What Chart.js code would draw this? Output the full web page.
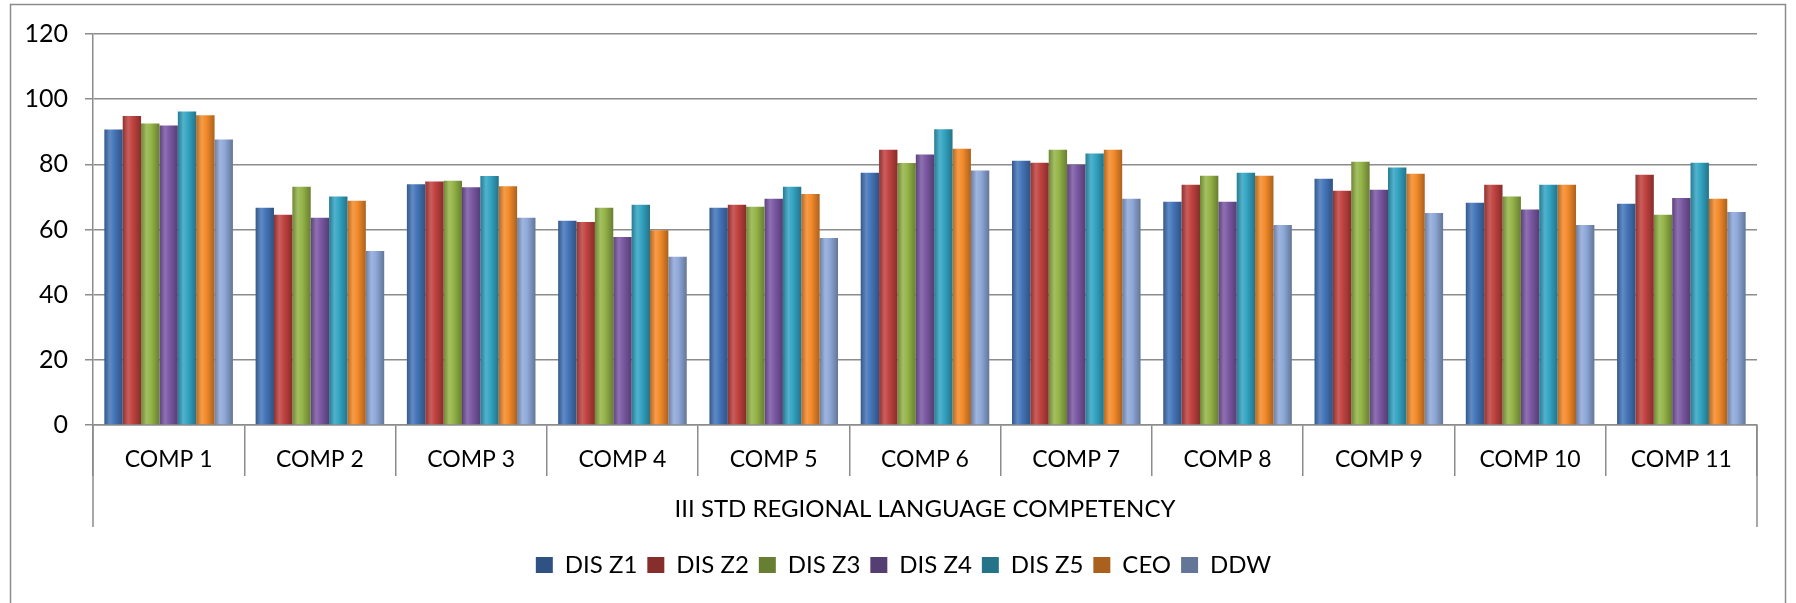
<!DOCTYPE html>
<html>
<head>
<meta charset="utf-8">
<script src="https://cdn.jsdelivr.net/npm/chart.js@4.4.1/dist/chart.umd.min.js"></script>
<style>
  html, body { margin: 0; padding: 0; background: #fff; }
  #wrap { width: 1796px; height: 603px; }
</style>
</head>
<body>
<div id="wrap"><canvas id="myChart"></canvas></div>
<script>
const categories = ['COMP 1', 'COMP 2', 'COMP 3', 'COMP 4', 'COMP 5', 'COMP 6',
  'COMP 7', 'COMP 8', 'COMP 9', 'COMP 10', 'COMP 11'];
const axisTitle = 'III STD REGIONAL LANGUAGE COMPETENCY';
const yTicks = [0, 20, 40, 60, 80, 100, 120];

const disZ1 = [90.7, 66.7, 73.9, 62.7, 66.7, 77.4, 81.1, 68.5, 75.6, 68.2, 67.9];
const disZ2 = [94.8, 64.5, 74.7, 62.3, 67.6, 84.5, 80.5, 73.7, 71.9, 73.7, 76.8];
const disZ3 = [92.5, 73.1, 75.0, 66.7, 67.0, 80.4, 84.5, 76.5, 80.8, 70.1, 64.5];
const disZ4 = [91.9, 63.6, 73.0, 57.7, 69.4, 83.0, 79.9, 68.5, 72.2, 66.1, 69.7];
const disZ5 = [96.2, 70.1, 76.4, 67.6, 73.1, 90.8, 83.3, 77.4, 79.0, 73.7, 80.5];
const ceo   = [95.1, 68.8, 73.3, 59.8, 70.9, 84.8, 84.5, 76.5, 77.1, 73.7, 69.4];
const ddw   = [87.6, 53.4, 63.6, 51.6, 57.4, 78.1, 69.4, 61.4, 65.1, 61.4, 65.4];

const gridColor = '#8c8c8c';
const axisFont = { family: 'Lato', size: 23 };
const yFont = { family: 'Lato', size: 25 };
const titleFont = { family: 'Lato', size: 24 };
const legendFont = { family: 'Lato', size: 24 };

// lighten (amt > 0) or darken (amt < 0) a hex colour
function shade(hex, amt) {
  const n = parseInt(hex.slice(1), 16);
  let r = n >> 16, g = (n >> 8) & 255, b = n & 255;
  const t = amt < 0 ? 0 : 255, p = Math.abs(amt);
  r = Math.round(r + (t - r) * p);
  g = Math.round(g + (t - g) * p);
  b = Math.round(b + (t - b) * p);
  return `rgb(${r},${g},${b})`;
}

// horizontal gradient so the bars look a bit like cylinders
function cylinder(base) {
  return (c) => {
    const el = c.element;
    if (!el || !isFinite(el.x) || !el.width) return base;
    const g = c.chart.ctx.createLinearGradient(el.x - el.width / 2, 0, el.x + el.width / 2, 0);
    g.addColorStop(0, shade(base, -0.25));
    g.addColorStop(0.3, shade(base, 0.15));
    g.addColorStop(0.55, base);
    g.addColorStop(1, shade(base, -0.3));
    return g;
  };
}

function series(label, data, color) {
  return {
    label, data,
    backgroundColor: cylinder(color),
    borderWidth: 0,
    barPercentage: 1.0,
    categoryPercentage: 0.85,
  };
}

const frame = {
  id: 'frame',
  afterLayout(chart) {
    // legend sits a little right of the canvas centre in the original
    chart.legend.left += 20;
    chart.legend.right += 20;
  },
  beforeDraw(chart) {
    const { ctx } = chart;
    ctx.save();
    ctx.strokeStyle = gridColor;
    ctx.lineWidth = 1.5;
    ctx.strokeRect(10.5, 4.5, chart.width - 21, chart.height + 20);
    ctx.restore();
  },
  afterDraw(chart) {
    const { ctx, chartArea } = chart;
    ctx.save();
    ctx.strokeStyle = gridColor;
    ctx.lineWidth = 1.5;
    ctx.beginPath();
    [chartArea.left, chartArea.right].forEach(px => {
      ctx.moveTo(px, chartArea.bottom);
      ctx.lineTo(px, chartArea.bottom + 102);
    });
    ctx.stroke();
    ctx.restore();
  }
};

const chart = new Chart(document.getElementById('myChart'), {
  type: 'bar',
  data: {
    labels: categories,
    datasets: [
      series('DIS Z1', disZ1, '#4475B9'),
      series('DIS Z2', disZ2, '#C0423F'),
      series('DIS Z3', disZ3, '#94B447'),
      series('DIS Z4', disZ4, '#7A58A3'),
      series('DIS Z5', disZ5, '#33A4C2'),
      series('CEO', ceo, '#F38A2A'),
      series('DDW', ddw, '#8EA8D8'),
    ],
  },
  options: {
    responsive: true,
    maintainAspectRatio: false,
    animation: false,
    layout: { padding: { left: 10, right: 39, top: 34, bottom: 16 } },
    plugins: {
      legend: {
        position: 'bottom',
        labels: { font: legendFont, color: '#000', boxWidth: 17, boxHeight: 16, padding: 10 },
      },
      tooltip: { enabled: false },
    },
    scales: {
      x: {
        grid: { offset: true, drawOnChartArea: false, tickLength: 51, color: gridColor, lineWidth: 1.5 },
        border: { color: gridColor, width: 1.5 },
        ticks: { font: axisFont, color: '#000', padding: -30, maxRotation: 0, autoSkip: false },
        title: { display: true, text: axisTitle, font: titleFont, color: '#000', padding: { top: 0, bottom: 19 } },
        afterFit(scale) { scale.height = 118; },
      },
      y: {
        min: 0,
        max: 120,
        afterBuildTicks(scale) { scale.ticks = yTicks.map(v => ({ value: v })); },
        grid: { color: gridColor, lineWidth: 1.5, tickLength: 8 },
        border: { color: gridColor, width: 1.5 },
        ticks: { font: yFont, color: '#000', padding: 17 },
        afterFit(scale) { scale.width = 83; },
      },
    },
  },
  plugins: [frame],
});

// second pass so the gradients know where each bar sits
chart.update('none');
</script>
</body>
</html>
